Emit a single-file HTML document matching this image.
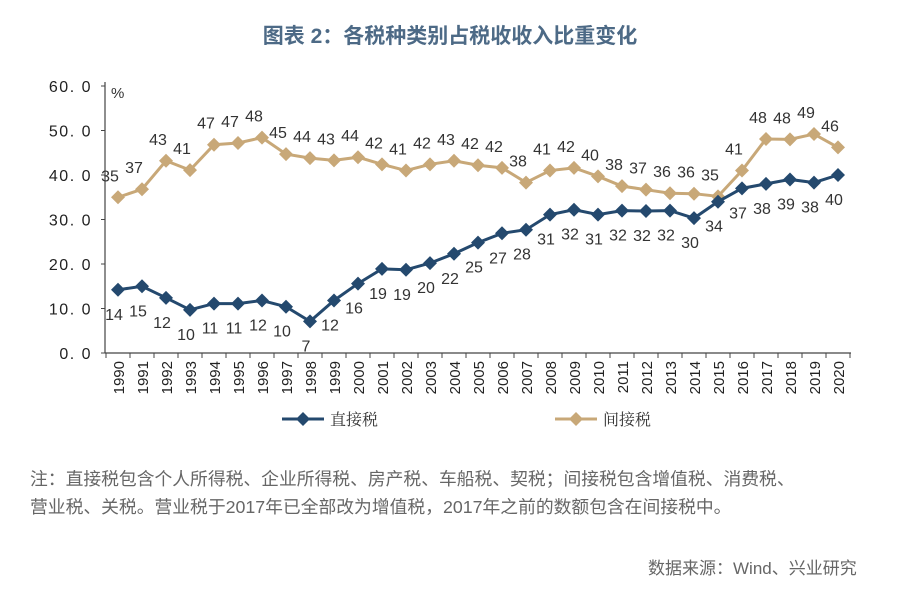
<!DOCTYPE html>
<html><head><meta charset="utf-8"><style>
body{margin:0;width:900px;height:590px;background:#fff;font-family:"Liberation Sans","Noto Sans CJK SC",sans-serif;overflow:hidden;position:relative}
.t{position:absolute}
</style></head><body>
<div class="t" style="left:0;width:900px;top:20px;text-align:center;font-size:21px;font-weight:bold;color:#4d6a86">图表 2：各税种类别占税收收入比重变化</div>
<svg id="c" width="900" height="440" style="position:absolute;left:0;top:0"></svg>
<div class="t" style="left:30px;top:465px;width:860px;font-size:17.8px;line-height:28px;color:#666;white-space:nowrap">注：直接税包含个人所得税、企业所得税、房产税、车船税、契税；间接税包含增值税、消费税、<br>营业税、关税。营业税于2017年已全部改为增值税，2017年之前的数额包含在间接税中。</div>
<div class="t" style="left:648px;top:554px;font-size:17px;color:#666">数据来源：Wind、兴业研究</div>
<script>
const years=[1990,1991,1992,1993,1994,1995,1996,1997,1998,1999,2000,2001,2002,2003,2004,2005,2006,2007,2008,2009,2010,2011,2012,2013,2014,2015,2016,2017,2018,2019,2020];
const direct=[14.2,15,12.4,9.7,11.1,11.1,11.8,10.4,7.1,11.8,15.6,18.9,18.7,20.2,22.3,24.8,26.9,27.7,31.1,32.2,31.1,32,31.9,32,30.3,34,37,38,39,38.3,40];
const indirect=[35,36.8,43.2,41.1,46.8,47.2,48.4,44.7,43.8,43.3,44,42.4,41,42.4,43.2,42.2,41.6,38.3,41,41.6,39.7,37.5,36.7,35.9,35.8,35.2,41,48.1,48,49.2,46.2];
const yTicks=[0,10,20,30,40,50,60];
const NS='http://www.w3.org/2000/svg',svg=document.getElementById('c');
const x0=118,dx=24,yb=353,yt=86;
const X=i=>x0+i*dx, Y=v=>yb-(v/60)*(yb-yt);
function mk(tag,attrs,txt){const e=document.createElementNS(NS,tag);for(const k in attrs)e.setAttribute(k,attrs[k]);if(txt!=null)e.textContent=txt;svg.appendChild(e);return e;}
let e=mk('line',{x1:105,y1:yt-4,x2:105,y2:yb,stroke:'#444','stroke-width':1.2});

e=mk('line',{x1:105,y1:yb,x2:851,y2:yb,stroke:'#444','stroke-width':1.2});

yTicks.forEach(v=>{
 mk('line',{x1:101,y1:Y(v),x2:105,y2:Y(v),stroke:'#444'});
 e=mk('text',{x:92,y:Y(v)+6,'text-anchor':'end','font-size':16,fill:'#222','letter-spacing':'1.5'},v.toFixed(1).replace('.','. '));
 
});
e=mk('text',{x:111,y:98,'font-size':15,fill:'#333'},'%');

years.forEach((yr,i)=>{
 mk('line',{x1:X(i)+12,y1:yb,x2:X(i)+12,y2:yb+5,stroke:'#444'});
 if(i==0)mk('line',{x1:X(i)-12,y1:yb,x2:X(i)-12,y2:yb+5,stroke:'#444'});
 e=mk('text',{transform:`translate(${X(i)+6},${yb+8}) rotate(-90)`,'text-anchor':'end','font-size':15,fill:'#222'},yr);
 
});
function series(vals,color,name,above){
 e=mk('polyline',{points:vals.map((v,i)=>X(i)+','+Y(v)).join(' '),fill:'none',stroke:color,'stroke-width':3});
 
 vals.forEach((v,i)=>{
  const cx=X(i),cy=Y(v);
  e=mk('polygon',{points:`${cx},${cy-7} ${cx+7},${cy} ${cx},${cy+7} ${cx-7},${cy}`,fill:color});
  
  e=mk('text',{x:cx-(above?8:4),y:above?cy-16:cy+30,'text-anchor':'middle','font-size':16,fill:'#333'},Math.round(v));
  
 });
}
series(indirect,'#c8a878','indirect-tax',true);
series(direct,'#24496e','direct-tax',false);
function legend(x,color,label,name){
 e=mk('line',{x1:x,y1:419,x2:x+42,y2:419,stroke:color,'stroke-width':3});
 
 mk('polygon',{points:`${x+21},${412} ${x+28},419 ${x+21},426 ${x+14},419`,fill:color});
 e=mk('text',{x:x+48,y:425,'font-size':16,fill:'#333','font-family':'Noto Serif CJK SC,serif'},label);
 
}
legend(282,'#24496e','直接税','direct-tax');
legend(555,'#c8a878','间接税','indirect-tax');
</script>
</body></html>
